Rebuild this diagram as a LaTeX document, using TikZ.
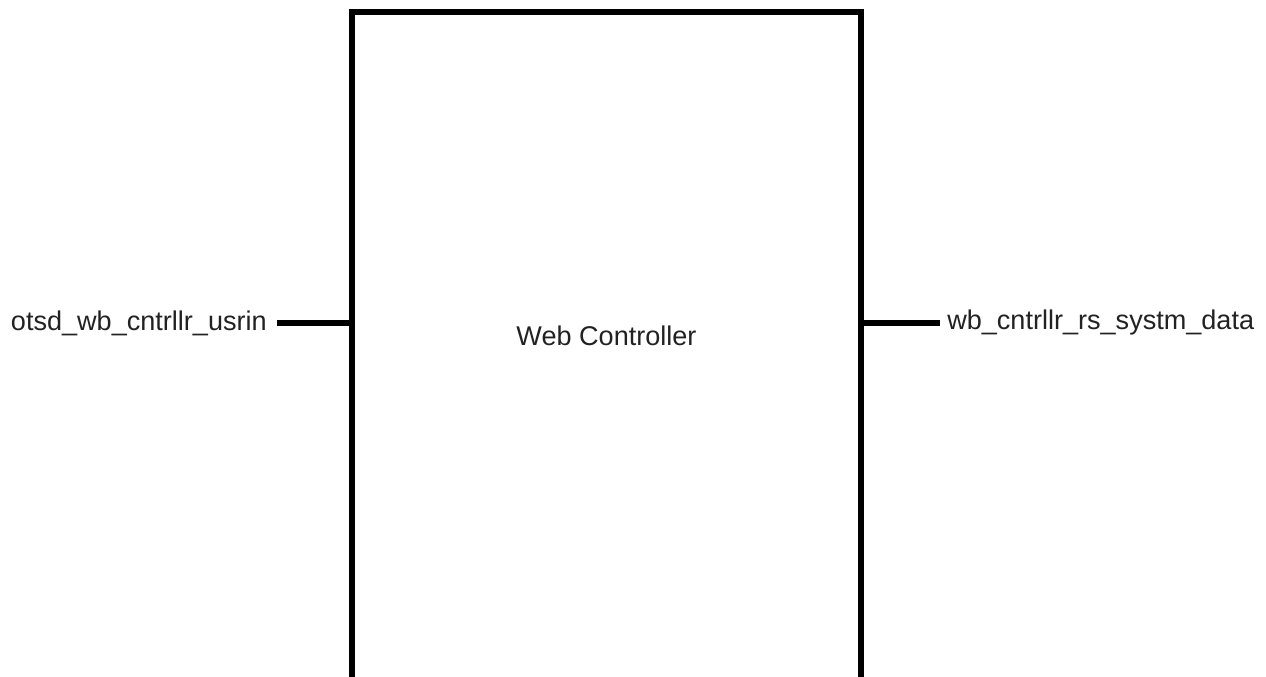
\documentclass[tikz,border=0pt]{standalone}
\usepackage{fontspec}
\setmainfont{Liberation Sans}
\definecolor{txt}{HTML}{222222}
\begin{document}
\begin{tikzpicture}[x=0.75pt,y=-0.75pt,
  block/.style={draw=black,line width=3.9pt,minimum width=509*0.75pt,minimum height=668*0.75pt,inner sep=0pt,outer sep=0pt},
  sig/.style={font=\fontsize{20.3pt}{24pt}\selectfont,text=txt,inner sep=0pt},
  wire/.style={line width=3.9pt}]
\useasboundingbox (0,0) rectangle (1266,677);
\node[block] (ctrl) at (606.5,346) {};
\node[sig] (title) at (606.5,336) {Web Controller};
\node[sig,anchor=east] (inlbl) at (267,323) {otsd\_wb\_cntrllr\_usrin};
\coordinate (inend) at (277,323);
\node[sig,anchor=west] (outlbl) at (947,323) {wb\_cntrllr\_rs\_systm\_data};
\coordinate (outend) at (940,323);
\draw[wire] (inend) -- (inend -| ctrl.west);
\draw[wire] (outend -| ctrl.east) -- (outend);
\end{tikzpicture}
\end{document}
